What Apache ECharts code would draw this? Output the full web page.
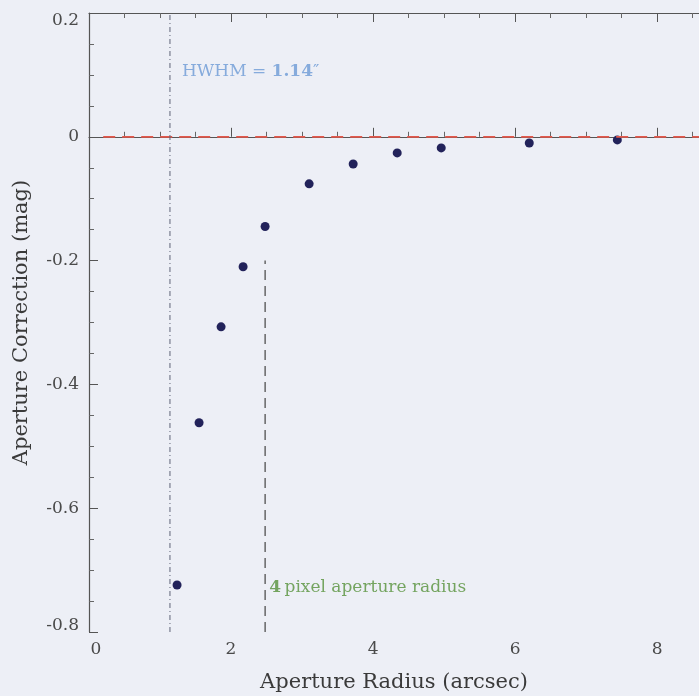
<!DOCTYPE html>
<html>
<head>
<meta charset="utf-8">
<script src="https://cdn.jsdelivr.net/npm/echarts@6/dist/echarts.min.js"></script>
<style>
html,body{margin:0;padding:0;background:#edeff6;}
#c{width:699px;height:696px;}
</style>
</head>
<body>
<div id="c"></div>
<script>
// Data (aperture radius in arcsec, aperture correction in mag)
var radius = [1.24, 1.55, 1.86, 2.17, 2.48, 3.10, 3.72, 4.34, 4.96, 6.20, 7.44];
var correction = [-0.724, -0.462, -0.307, -0.210, -0.145, -0.076, -0.044, -0.026, -0.018, -0.010, -0.005];
var hwhm = 1.14;
var apertureRadius = 2.48;
var xTicks = [0, 2, 4, 6, 8];
var yTicks = [-0.8, -0.6, -0.4, -0.2, 0, 0.2];

var serif = '"DejaVu Serif", "Liberation Serif", serif';
var chart = echarts.init(document.getElementById('c'), null, {renderer: 'canvas'});

function fmtY(v) {
  if (Math.abs(v) < 1e-9) return '{n|0}';
  var s = (Math.round(v * 10) / 10).toFixed(1);
  if (Math.abs(v - 0.2) < 1e-9) return '{top|' + s + '}';
  if (Math.abs(v + 0.8) < 1e-9) return '{bot|' + s + '}';
  return '{n|' + s + '}';
}

var tickFont = {fontFamily: serif, fontSize: 17, color: '#4a4a4a'};

var axisCommon = {
  type: 'value',
  axisLine: {show: true, lineStyle: {color: '#555', width: 1.2}},
  axisTick: {show: true, inside: true, length: 9, lineStyle: {color: '#555'}},
  minorTick: {show: true, splitNumber: 4, length: 5, lineStyle: {color: '#666'}},
  splitLine: {show: false},
  minorSplitLine: {show: false}
};

chart.setOption({
  backgroundColor: '#edeff6',
  animation: false,
  grid: {left: 89, top: 13, width: 610, height: 619, outerBoundsMode: 'none', containLabel: false},
  xAxis: [
    Object.assign({}, axisCommon, {
      position: 'bottom', min: 0, max: 8.59, interval: 2,
      name: 'Aperture Radius (arcsec)', nameLocation: 'middle', nameGap: 40,
      nameMoveOverlap: false,
      nameTextStyle: {fontFamily: serif, fontSize: 21, color: '#3a3a3a'},
      axisLabel: {fontFamily: serif, fontSize: 17, color: '#4a4a4a', margin: 9,
        showMaxLabel: false,
        formatter: function (v) {
          if (Math.abs(v) < 1e-9) return '{z|0}';
          return xTicks.indexOf(v) >= 0 ? '{n|' + v + '}' : '';
        },
        rich: {
          n: tickFont,
          z: Object.assign({}, tickFont, {padding: [0, 0, 0, 14]})
        }
      }
    }),
    Object.assign({}, axisCommon, {
      position: 'top', min: 0, max: 8.59, interval: 2,
      axisLabel: {show: false}
    })
  ],
  yAxis: [
    Object.assign({}, axisCommon, {
      min: -0.8, max: 0.2, interval: 0.2,
      name: 'Aperture Correction (mag)', nameLocation: 'middle', nameGap: 57,
      nameMoveOverlap: false,
      nameTextStyle: {fontFamily: serif, fontSize: 21, color: '#3a3a3a'},
      axisLabel: {margin: 10, formatter: fmtY,
        rich: {
          n: tickFont,
          top: Object.assign({}, tickFont, {padding: [16, 0, 0, 0]}),
          bot: Object.assign({}, tickFont, {padding: [0, 0, 12, 0]})
        }
      }
    })
  ],
  series: [
    {
      type: 'line', xAxisIndex: 0, yAxisIndex: 0, silent: true,
      data: [[0.2, 0], [8.59, 0]], symbol: 'none',
      lineStyle: {color: '#e2584c', width: 1.7, opacity: 1, type: [12, 7]}
    },
    {
      type: 'line', silent: true,
      data: [[hwhm, -0.8], [hwhm, 0.2]], symbol: 'none',
      lineStyle: {color: '#5f6478', width: 1, type: [5, 3, 1, 3]}
    },
    {
      type: 'line', silent: true,
      data: [[apertureRadius, -0.8], [apertureRadius, -0.2]], symbol: 'none',
      lineStyle: {color: '#505050', width: 1.3, type: [10, 6]}
    },
    {
      type: 'scatter', silent: true,
      data: radius.map(function (r, i) { return [r, correction[i]]; }),
      symbol: 'circle', symbolSize: 9,
      itemStyle: {color: '#22225a', opacity: 1}
    },
    {
      type: 'scatter', silent: true, symbolSize: 0,
      data: [[hwhm + 0.17, 0.105]],
      label: {
        show: true, position: 'right', distance: 0,
        formatter: '{a|HWHM = }{b|1.14}{a|\u2033}',
        rich: {
          a: {fontFamily: serif, fontSize: 17, color: '#6b9ad6'},
          b: {fontFamily: serif, fontSize: 17, color: '#6b9ad6', fontWeight: 'bold'}
        }
      }
    },
    {
      type: 'scatter', silent: true, symbolSize: 0,
      data: [[apertureRadius + 0.06, -0.728]],
      label: {
        show: true, position: 'right', distance: 0,
        formatter: '{b|4} {a|pixel aperture radius}',
        rich: {
          a: {fontFamily: serif, fontSize: 17, color: '#55913a'},
          b: {fontFamily: serif, fontSize: 17, color: '#55913a', fontWeight: 'bold'}
        }
      }
    }
  ]
});
</script>
</body>
</html>
